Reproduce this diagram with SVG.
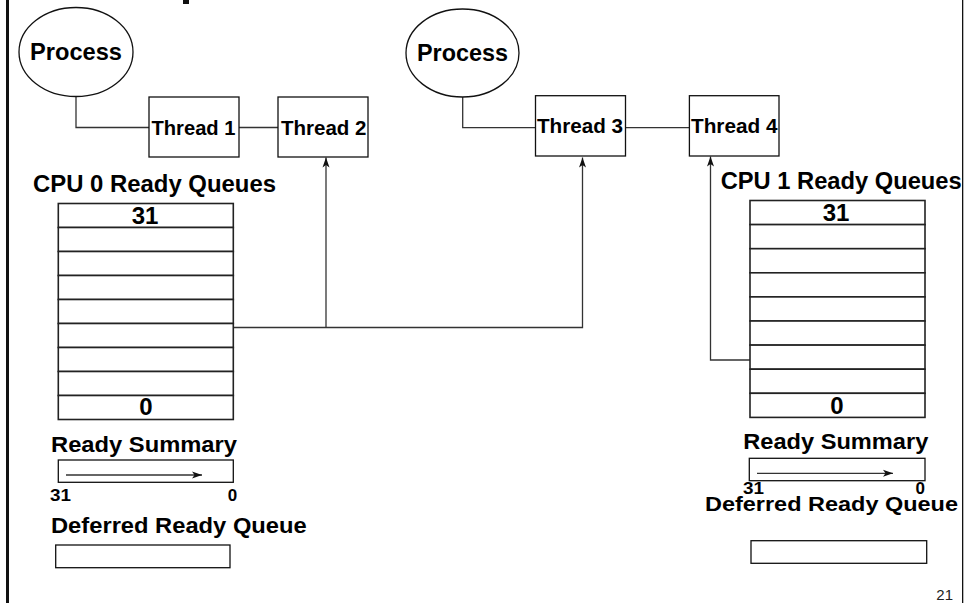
<svg xmlns="http://www.w3.org/2000/svg" width="965" height="603" viewBox="0 0 965 603">
<style>
  .t { font-family: "Liberation Sans", Arial, sans-serif; font-weight: bold; fill: #000; }
  .box { fill: #fff; stroke: #111; stroke-width: 1.3; }
  .row { fill: #fff; stroke: #222; stroke-width: 1.6; }
  .line { fill: none; stroke: #333; stroke-width: 1.3; }
  .pg { font-family: "Liberation Sans", Arial, sans-serif; font-size: 15px; fill: #222; }
</style>
<defs>
  <marker id="arr" markerUnits="userSpaceOnUse" markerWidth="11" markerHeight="8" refX="10" refY="4" orient="auto">
    <path d="M0,0.5 L10,4 L0,7.5 L2.5,4 z" fill="#111"/>
  </marker>
</defs>
<rect width="965" height="603" fill="#fff"/>
<g id="frame">
  <rect x="6" y="0" width="3" height="603" fill="#111"/>
  <rect x="962" y="0" width="1.3" height="603" fill="#111"/>
  <rect x="183" y="0" width="6" height="4" fill="#111"/>
</g>
<g id="connectors">
  <path class="line" d="M76,96 V127.5 H149"/>
  <path class="line" d="M239,127.5 H278"/>
  <path class="line" d="M462.7,97 V127.7 H535.5"/>
  <path class="line" d="M625.6,127.7 H689.4"/>
  <path class="line" d="M231,327.5 H582.5 V157.5" marker-end="url(#arr)"/>
  <path class="line" d="M326,327.5 V157.5" marker-end="url(#arr)"/>
  <path class="line" d="M750,360 H710.5 V156.5" marker-end="url(#arr)"/>
</g>
<g id="process1">
  <ellipse class="box" cx="76" cy="52" rx="57" ry="44.5"/>
  <text class="t" x="30" y="60" font-size="20" textLength="92" lengthAdjust="spacingAndGlyphs" transform="translate(0,60) scale(1,1.2) translate(0,-60)">Process</text>
</g>
<g id="process2">
  <ellipse class="box" cx="462.5" cy="53" rx="56.5" ry="44"/>
  <text class="t" x="417" y="61.5" font-size="20" textLength="91" lengthAdjust="spacingAndGlyphs" transform="translate(0,61.5) scale(1,1.2) translate(0,-61.5)">Process</text>
</g>
<g id="thread1">
  <rect class="box" x="149" y="97" width="90" height="60"/>
  <text class="t" x="151.5" y="135" font-size="18" textLength="84" lengthAdjust="spacingAndGlyphs" transform="translate(0,135) scale(1,1.15) translate(0,-135)">Thread 1</text>
</g>
<g id="thread2">
  <rect class="box" x="278" y="97" width="90" height="60"/>
  <text class="t" x="281" y="135" font-size="18" textLength="85.5" lengthAdjust="spacingAndGlyphs" transform="translate(0,135) scale(1,1.15) translate(0,-135)">Thread 2</text>
</g>
<g id="thread3">
  <rect class="box" x="535.5" y="95.7" width="90" height="60.3"/>
  <text class="t" x="537" y="133.5" font-size="18" textLength="86" lengthAdjust="spacingAndGlyphs" transform="translate(0,133.5) scale(1,1.15) translate(0,-133.5)">Thread 3</text>
</g>
<g id="thread4">
  <rect class="box" x="689.4" y="95.7" width="89.6" height="60.3"/>
  <text class="t" x="691" y="133.5" font-size="18" textLength="86.5" lengthAdjust="spacingAndGlyphs" transform="translate(0,133.5) scale(1,1.15) translate(0,-133.5)">Thread 4</text>
</g>
<g id="cpu0-queues">
  <text class="t" x="33" y="191.7" font-size="21" textLength="243" lengthAdjust="spacingAndGlyphs" transform="translate(0,191.7) scale(1,1.12) translate(0,-191.7)">CPU 0 Ready Queues</text>
  <rect class="row" x="58.3" y="203.5" width="175" height="24"/>
  <rect class="row" x="58.3" y="227.5" width="175" height="24"/>
  <rect class="row" x="58.3" y="251.5" width="175" height="24"/>
  <rect class="row" x="58.3" y="275.5" width="175" height="24"/>
  <rect class="row" x="58.3" y="299.5" width="175" height="24"/>
  <rect class="row" x="58.3" y="323.5" width="175" height="24"/>
  <rect class="row" x="58.3" y="347.5" width="175" height="24"/>
  <rect class="row" x="58.3" y="371.5" width="175" height="24"/>
  <rect class="row" x="58.3" y="395.5" width="175" height="24"/>
  <text class="t" x="145" y="223.5" font-size="24" text-anchor="middle">31</text>
  <text class="t" x="146" y="415" font-size="24" text-anchor="middle">0</text>
</g>
<g id="cpu1-queues">
  <text class="t" x="720.7" y="189" font-size="21" textLength="241" lengthAdjust="spacingAndGlyphs" transform="translate(0,189) scale(1,1.12) translate(0,-189)">CPU 1 Ready Queues</text>
  <rect class="row" x="750" y="200.5" width="175" height="24.1"/>
  <rect class="row" x="750" y="224.6" width="175" height="24.1"/>
  <rect class="row" x="750" y="248.7" width="175" height="24.1"/>
  <rect class="row" x="750" y="272.8" width="175" height="24.1"/>
  <rect class="row" x="750" y="296.9" width="175" height="24.1"/>
  <rect class="row" x="750" y="321" width="175" height="24.1"/>
  <rect class="row" x="750" y="345.1" width="175" height="24.1"/>
  <rect class="row" x="750" y="369.2" width="175" height="24.1"/>
  <rect class="row" x="750" y="393.3" width="175" height="24.1"/>
  <text class="t" x="836" y="220.8" font-size="24" text-anchor="middle">31</text>
  <text class="t" x="837" y="414.3" font-size="24" text-anchor="middle">0</text>
</g>
<g id="ready-summary-0">
  <text class="t" x="51" y="451.7" font-size="20" textLength="186" lengthAdjust="spacingAndGlyphs" transform="translate(0,451.7) scale(1,1.12) translate(0,-451.7)">Ready Summary</text>
  <rect class="box" x="58.3" y="460" width="175" height="22.3"/>
  <path class="line" d="M66,475 H202" marker-end="url(#arr)"/>
  <text class="t" x="50" y="501" font-size="17" textLength="21" lengthAdjust="spacingAndGlyphs">31</text>
  <text class="t" x="237.3" y="501" font-size="17" text-anchor="end">0</text>
</g>
<g id="deferred-0">
  <text class="t" x="51" y="533.3" font-size="20" textLength="255.7" lengthAdjust="spacingAndGlyphs" transform="translate(0,533.3) scale(1,1.12) translate(0,-533.3)">Deferred Ready Queue</text>
  <rect class="box" x="55.7" y="545" width="174.3" height="22.7"/>
</g>
<g id="ready-summary-1">
  <text class="t" x="743.3" y="449.3" font-size="20" textLength="185" lengthAdjust="spacingAndGlyphs" transform="translate(0,449.3) scale(1,1.12) translate(0,-449.3)">Ready Summary</text>
  <rect class="box" x="749.3" y="458.3" width="175.7" height="22.4"/>
  <path class="line" d="M757,473.3 H893" marker-end="url(#arr)"/>
  <text class="t" x="743" y="494" font-size="17" textLength="21" lengthAdjust="spacingAndGlyphs">31</text>
  <text class="t" x="925" y="494" font-size="17" text-anchor="end">0</text>
</g>
<g id="deferred-1">
  <text class="t" x="705" y="511.5" font-size="20" textLength="253" lengthAdjust="spacingAndGlyphs" transform="translate(0,511.5) scale(1,1.05) translate(0,-511.5)">Deferred Ready Queue</text>
  <rect class="box" x="751" y="540.7" width="175.7" height="22.6"/>
</g>
<g id="page-number">
  <text class="pg" x="953" y="600" text-anchor="end">21</text>
</g>
</svg>
